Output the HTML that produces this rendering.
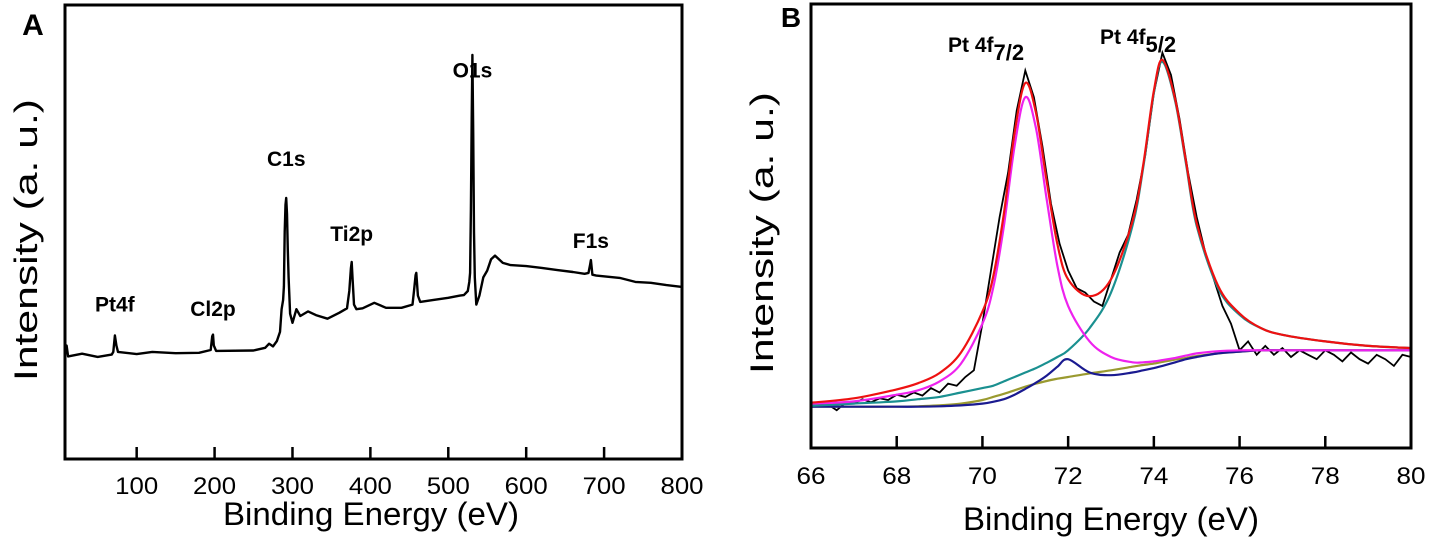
<!DOCTYPE html>
<html><head><meta charset="utf-8"><style>
body{margin:0;background:#fff;}
svg{display:block;font-family:"Liberation Sans",Arial,sans-serif;}
</style></head><body>
<svg id="fig" width="1430" height="541" viewBox="0 0 1430 541"></svg>
<script>
// Panel A survey spectrum
const surveyEnergy=[8,10,12,30,50,68,70,72,74,76,100,120,150,180,195,197,198,199,202,250,265,270,275,280,284,286,288,289,290,291,292,293,294,295,297,300,305,310,320,330,345,360,370,373,375,376,377,379,382,390,405,420,440,454,456,458,459,461,464,480,500,515,520,525,527,528,529,530,531,532,533,534,536,540,545,550,555,560,570,580,600,620,640,660,675,680,682,683,685,690,720,740,760,780,800];
const surveyIntensity=[23,25,22.6,23.2,22.5,23,23.6,27.2,25,23.6,23.1,23.6,23.3,23.4,24,27,27.4,25,23.8,23.9,24.5,25.4,24.8,26,28,33,35,38,50,56,57.5,54,46,40,32,30,33,31.5,32.5,31.7,30.9,32.2,33.2,37,42,43.4,40,34,33,33.2,34.4,33.3,33.3,34,37,40.5,41,36,34.6,35,35.5,36,36.1,37,39,41,55,75,89,72,50,40,34,36,40,41.5,44,44.8,43.2,42.7,42.5,42.1,41.6,41.2,40.8,41,42.8,43.8,40.6,40.4,39.9,39,38.8,38.3,37.9];
const surveyXTicks=[100,200,300,400,500,600,700,800];
const surveyPeakLabels=["Pt4f","Cl2p","C1s","Ti2p","O1s","F1s"];
const surveyPeakEnergy=[72,198,292,376,531,683];
const surveyPeakLabelIntensity=[32.5,31.5,64.5,48,84,46.5];

// Panel B Pt 4f high-res
const ptEnergy=[66,67,68,68.5,69,69.5,70,70.25,70.5,70.75,71,71.25,71.5,71.75,72,72.5,73,73.5,73.75,74,74.2,74.5,74.75,75,75.5,76,76.5,77,78,79,80];
const envelopeFit=[10.2,11.2,13.2,14.6,16.9,21.5,30.7,38.5,52.8,71,82.2,75.5,60.1,45.9,38,34.2,38,51,63.6,80.5,87.4,78.4,64.5,50.6,36.5,30.3,27,25.5,24,23,22.5];
const pt72Fit=[10,10.5,12,13,15,19,28,36,50,68,79,72,56,41,32,24,20.5,19.3,19.3,19.5,19.8,20.3,20.8,21.3,21.8,22,22,22,22,22,22];
const pt52Fit=[9.5,10,10.5,11,11.5,12.5,13.5,14,15,16,17,18,19.2,20.5,22,27,35,50,63,80,87,78,64,50,36,30,27,25.5,24,23,22.5];
const minorFit=[9.3,9.3,9.3,9.3,9.4,9.6,10,10.4,11,12,13.3,14.7,16.3,18.3,20,17,16.4,17,17.5,18,18.5,19.3,20,20.5,21.3,21.7,22,22,22,22,22];
const backgroundFit=[9.3,9.3,9.3,9.4,9.6,10,10.8,11.5,12.2,13,13.8,14.5,15.1,15.6,16,16.8,17.5,18.3,18.7,19,19.4,19.9,20.3,20.7,21.3,21.7,22,22,22,22,22];
const rawEnergyStart=66, rawEnergyStep=0.2;
const rawIntensity=[9.5,10,9.8,8.5,10.2,10,11,10.3,11.2,10.8,12,11.5,12.5,11.8,13.5,12.5,14.5,14,16,17.5,28,40,52,62,76,85,79,68,55,46,40,36,35,33,32,38,44,48,56,66,80,89,84,74,62,52,44,38,32,28,22,24,21,23,21,22.5,20.5,22,21,20,22,21,19.5,21.5,20,19,21,20,18.5,21,20.5];
const ptXTicks=[66,68,70,72,74,76,78,80];

const NS="http://www.w3.org/2000/svg";
const svg=document.getElementById('fig');
function mk(tag,attrs,parent){const e=document.createElementNS(NS,tag);for(const k in attrs)e.setAttribute(k,attrs[k]);(parent||svg).appendChild(e);return e;}

// ---- Panel A ----
const A={l:65,r:682,t:5,b:459,x0:8,x1:800};
const axA=v=>A.l+(v-A.x0)/(A.x1-A.x0)*(A.r-A.l);
const ayA=v=>A.b-v/100*(A.b-A.t);
const gA=mk('g',{});


let d='';
surveyEnergy.forEach((e,i)=>{d+=(i?'L':'M')+axA(e).toFixed(1)+','+ayA(surveyIntensity[i]).toFixed(1);});
const lA=mk('path',{d:d,fill:'none',stroke:'#000','stroke-width':2.4,'stroke-linejoin':'round'},gA);


const fA=mk('rect',{x:A.l,y:A.t,width:A.r-A.l,height:A.b-A.t,fill:'none',stroke:'#000','stroke-width':3},gA);


surveyXTicks.forEach(t=>{
  const x=axA(t);
  const tk=mk('line',{x1:x,x2:x,y1:A.b,y2:A.b-12,stroke:'#000','stroke-width':2.5},gA);
  
  
  const tx=mk('text',{x:x,y:A.b+35,'text-anchor':'middle','font-size':24,textLength:43,lengthAdjust:'spacingAndGlyphs'},gA);
  
  
  tx.textContent=t;
});
surveyPeakLabels.forEach((n,i)=>{
  const tx=mk('text',{x:axA(surveyPeakEnergy[i]),y:ayA(surveyPeakLabelIntensity[i]),'text-anchor':'middle','font-size':21,'font-weight':'bold'},gA);
  
  
  tx.textContent=n;
});
// ---- Panel B ----
const B={l:811,r:1411,t:4,b:448,x0:66,x1:80};
const axB=v=>B.l+(v-B.x0)/(B.x1-B.x0)*(B.r-B.l);
const ayB=v=>B.b-v/100*(B.b-B.t);
const gB=mk('g',{});


function smooth(xs,ys){
  const p=xs.map((x,i)=>[axB(x),ayB(ys[i])]);
  let s='M'+p[0][0].toFixed(1)+','+p[0][1].toFixed(1);
  for(let i=0;i<p.length-1;i++){
    const p0=p[i-1]||p[i],p1=p[i],p2=p[i+1],p3=p[i+2]||p[i+1];
    const c1=[p1[0]+(p2[0]-p0[0])/6,p1[1]+(p2[1]-p0[1])/6];
    const c2=[p2[0]-(p3[0]-p1[0])/6,p2[1]-(p3[1]-p1[1])/6];
    s+='C'+c1[0].toFixed(1)+','+c1[1].toFixed(1)+' '+c2[0].toFixed(1)+','+c2[1].toFixed(1)+' '+p2[0].toFixed(1)+','+p2[1].toFixed(1);
  }
  return s;
}
let rd='';
rawIntensity.forEach((v,i)=>{rd+=(i?'L':'M')+axB(rawEnergyStart+i*rawEnergyStep).toFixed(1)+','+ayB(v).toFixed(1);});
const raw=mk('path',{d:rd,fill:'none',stroke:'#000','stroke-width':1.8},gB);


const bg=mk('path',{d:smooth(ptEnergy,backgroundFit),fill:'none',stroke:'#9a9a30','stroke-width':2.2},gB);


const mn=mk('path',{d:smooth(ptEnergy,minorFit),fill:'none',stroke:'#1a1a90','stroke-width':2.2},gB);


const p52=mk('path',{d:smooth(ptEnergy,pt52Fit),fill:'none',stroke:'#1a9090','stroke-width':2.2},gB);


const p72=mk('path',{d:smooth(ptEnergy,pt72Fit),fill:'none',stroke:'#ee22ee','stroke-width':2.2},gB);


const env=mk('path',{d:smooth(ptEnergy,envelopeFit),fill:'none',stroke:'#ee1111','stroke-width':2.2},gB);


const fB=mk('rect',{x:B.l,y:B.t,width:B.r-B.l,height:B.b-B.t,fill:'none',stroke:'#000','stroke-width':3},gB);


ptXTicks.forEach(t=>{
  const x=axB(t);
  if(t>B.x0&&t<B.x1){
    const tk=mk('line',{x1:x,x2:x,y1:B.b,y2:B.b-12,stroke:'#000','stroke-width':2.5},gB);
    
    
  }
  const tx=mk('text',{x:x,y:B.b+36,'text-anchor':'middle','font-size':24,textLength:29,lengthAdjust:'spacingAndGlyphs'},gB);
  
  
  tx.textContent=t;
});
</script>
<script>
const s=document.getElementById('fig');
s.insertAdjacentHTML('beforeend',`
<text x="33" y="35" font-size="30" font-weight="bold" text-anchor="middle">A</text>
<text x="0" y="0" font-size="32" text-anchor="middle" textLength="282" lengthAdjust="spacingAndGlyphs" transform="translate(37,240) rotate(-90)">Intensity (a. u.)</text>
<text x="371" y="525" font-size="32" text-anchor="middle" textLength="296" lengthAdjust="spacingAndGlyphs">Binding Energy (eV)</text>
<text x="791" y="27" font-size="28" font-weight="bold" text-anchor="middle">B</text>
<text x="0" y="0" font-size="32" text-anchor="middle" textLength="282" lengthAdjust="spacingAndGlyphs" transform="translate(773,233) rotate(-90)">Intensity (a. u.)</text>
<text x="1111" y="530" font-size="32" text-anchor="middle" textLength="296" lengthAdjust="spacingAndGlyphs">Binding Energy (eV)</text>
<text x="948" y="52" font-size="21" font-weight="bold">Pt 4f<tspan dy="8" font-size="22">7/2</tspan></text>
<text x="1100" y="44" font-size="21" font-weight="bold">Pt 4f<tspan dy="8" font-size="22">5/2</tspan></text>
`);
</script>
</body></html>
